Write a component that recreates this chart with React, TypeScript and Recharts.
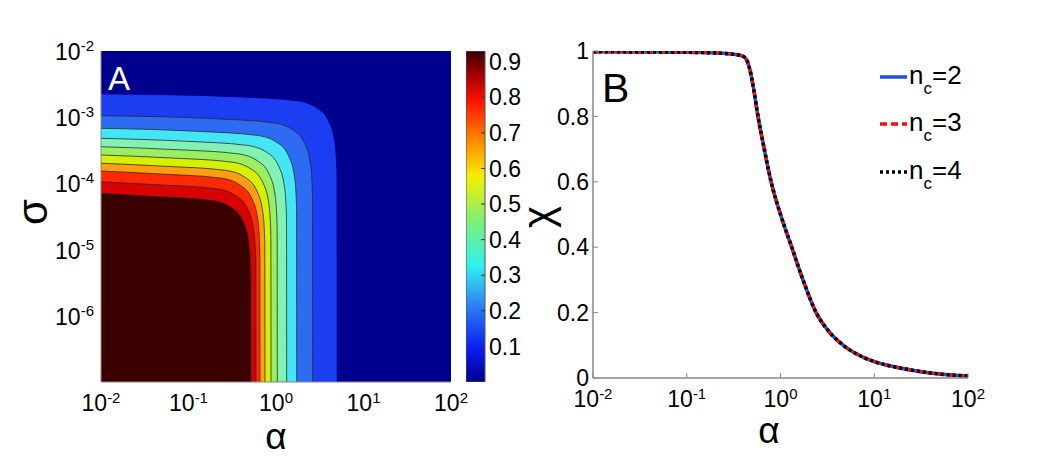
import React from 'react';
import { ComposedChart, Area, XAxis, YAxis, BarChart, Bar, LineChart, Line, Legend } from 'recharts';

const FONT = '"Liberation Sans", Arial, sans-serif';

// panel A: contour lines as log10(alpha), log10(sigma), outermost first
const contourAlpha = [
  [-2, -0.449, 0.237, 0.465, 0.603, 0.671, 0.692, 0.694],
  [-2, -0.724, -0.038, 0.19, 0.328, 0.396, 0.417, 0.419],
  [-2, -0.906, -0.22, 0.008, 0.146, 0.214, 0.235, 0.237],
  [-2, -1.021, -0.335, -0.107, 0.031, 0.099, 0.12, 0.122],
  [-2, -1.128, -0.442, -0.214, -0.076, -0.008, 0.013, 0.015],
  [-2, -1.2, -0.514, -0.286, -0.148, -0.08, -0.059, -0.057],
  [-2, -1.269, -0.583, -0.355, -0.217, -0.149, -0.128, -0.126],
  [-2, -1.326, -0.64, -0.412, -0.274, -0.206, -0.185, -0.183],
  [-2, -1.372, -0.686, -0.458, -0.32, -0.252, -0.231, -0.229],
  [-2, -1.429, -0.743, -0.515, -0.377, -0.309, -0.288, -0.286],
];
const contourSigma = [
  [-2.654, -2.699, -2.76, -2.865, -3.077, -3.409, -3.862, -7],
  [-2.977, -3.022, -3.083, -3.188, -3.4, -3.732, -4.185, -7],
  [-3.168, -3.213, -3.274, -3.379, -3.591, -3.923, -4.376, -7],
  [-3.319, -3.364, -3.425, -3.53, -3.742, -4.074, -4.527, -7],
  [-3.446, -3.491, -3.552, -3.657, -3.869, -4.201, -4.654, -7],
  [-3.571, -3.616, -3.677, -3.782, -3.994, -4.326, -4.779, -7],
  [-3.696, -3.741, -3.802, -3.907, -4.119, -4.451, -4.904, -7],
  [-3.813, -3.858, -3.919, -4.024, -4.236, -4.568, -5.021, -7],
  [-3.974, -4.019, -4.08, -4.185, -4.397, -4.729, -5.182, -7],
  [-4.15, -4.195, -4.256, -4.361, -4.573, -4.905, -5.358, -7],
];
const bandColors = ['#1c3ef2', '#2d6cf2', '#44e6f6', '#82f2b4', '#9aee62', '#d6f004', '#ff9e10', '#ff2a04', '#d80000', '#3a0000'];
const outerAlpha = [-2, 2];
const outerSigma = [-2, -2];
const alphaTicks = [-2, -1, 0, 1, 2];
const sigmaTicks = [-6, -5, -4, -3, -2];

// colorbar
const colorbarMax = 0.93;
const colorbarTicks = [0.1, 0.2, 0.3, 0.4, 0.5, 0.6, 0.7, 0.8, 0.9];

// panel B: chi vs log10(alpha)
const alphaB = [-2, -1.5, -1, -0.7, -0.5, -0.42, -0.38, -0.35, -0.32, -0.29, -0.24, -0.18, -0.1, 0, 0.12, 0.24, 0.38, 0.5, 0.67, 0.85, 1, 1.2, 1.42, 1.7, 2];
const chiN2 = [0.998, 0.997, 0.996, 0.994, 0.99, 0.986, 0.98, 0.965, 0.935, 0.89, 0.8, 0.71, 0.6, 0.5, 0.4, 0.3, 0.2, 0.148, 0.1, 0.068, 0.05, 0.035, 0.023, 0.012, 0.006];
const chiN3 = [0.998, 0.997, 0.996, 0.994, 0.99, 0.986, 0.98, 0.965, 0.935, 0.89, 0.8, 0.71, 0.6, 0.5, 0.4, 0.3, 0.2, 0.148, 0.1, 0.068, 0.05, 0.035, 0.023, 0.012, 0.006];
const chiN4 = [0.998, 0.997, 0.996, 0.994, 0.99, 0.986, 0.98, 0.965, 0.935, 0.89, 0.8, 0.71, 0.6, 0.5, 0.4, 0.3, 0.2, 0.148, 0.1, 0.068, 0.05, 0.035, 0.023, 0.012, 0.006];
const chiTicks = [0, 0.2, 0.4, 0.6, 0.8, 1];
const seriesNames = ['2', '3', '4'];
const seriesColors = ['#1f4fe6', '#ee1111', '#000000'];
const seriesDash = [undefined, '7 4', '3 3'];

const contours = contourAlpha.map((xs, i) => xs.map((x, j) => ({ x, y: contourSigma[i][j] })));
const outerBand = outerAlpha.map((x, i) => ({ x, y: outerSigma[i] }));
const tableB = alphaB.map((a, i) => ({ a, n2: chiN2[i], n3: chiN3[i], n4: chiN4[i] }));
const colorbarData = [{ name: 'cb', v: colorbarMax }];

const XPowTick = ({ x, y, payload }: any) => (
  <text x={x} y={y + 29} textAnchor="middle" fontFamily={FONT} fontSize={23} fill="#000">
    10<tspan dy={-8} fontSize={15}>{payload.value}</tspan>
  </text>
);

const YPowTick = ({ x, y, payload }: any) => (
  <text x={x} y={y + 9} textAnchor="end" fontFamily={FONT} fontSize={23} fill="#000">
    10<tspan dy={-9} fontSize={15}>{payload.value}</tspan>
  </text>
);

const LegendBox = () => (
  <div style={{ fontFamily: FONT, color: '#000' }}>
    {seriesNames.map((n, i) => (
      <div key={n} style={{ height: 47.5, display: 'flex', alignItems: 'center' }}>
        <svg width={29} height={8}>
          <line x1={0} x2={27} y1={4} y2={4} stroke={seriesColors[i]} strokeWidth={3.5} strokeDasharray={seriesDash[i]} />
        </svg>
        <span style={{ fontSize: 26, lineHeight: '26px' }}>
          n<span style={{ fontSize: 17, position: 'relative', top: 10 }}>c</span>={n}
        </span>
      </div>
    ))}
  </div>
);

export default function App() {
  return (
    <div style={{ position: 'absolute', left: 0, top: 0, width: 1050, height: 468, background: '#fff', overflow: 'hidden' }}>
      <div style={{ position: 'absolute', left: 0, top: 0 }}>
        <ComposedChart width={480} height={468} margin={{ top: 51, right: 29, bottom: 0, left: 0 }}>
          <XAxis xAxisId="b" type="number" dataKey="x" domain={[-2, 2]} ticks={alphaTicks} interval={0} allowDataOverflow
            height={86} tick={<XPowTick />} tickLine={false} tickSize={0} tickMargin={0} axisLine={{ stroke: '#888' }} />
          <XAxis xAxisId="t" orientation="top" type="number" dataKey="x" domain={[-2, 2]} allowDataOverflow
            height={0} tick={false} tickLine={false} axisLine={{ stroke: '#888' }} />
          <YAxis yAxisId="l" type="number" dataKey="y" domain={[-7, -2]} ticks={sigmaTicks} interval={0} allowDataOverflow
            width={101} tick={<YPowTick />} tickLine={false} tickSize={0} tickMargin={7} axisLine={{ stroke: '#888' }} />
          <YAxis yAxisId="r" orientation="right" type="number" dataKey="y" domain={[-7, -2]} allowDataOverflow
            width={0} tick={false} tickLine={false} axisLine={{ stroke: '#888' }} />
          <Area xAxisId="b" yAxisId="l" data={outerBand} dataKey="y" type="linear" baseValue={-7}
            fill="#00008f" fillOpacity={1} stroke="none" dot={false} activeDot={false} isAnimationActive={false} />
          {contours.map((pts, i) => (
            <Area key={i} xAxisId="b" yAxisId="l" data={pts} dataKey="y" type="monotone" baseValue={-7}
              fill={bandColors[i]} fillOpacity={1} stroke={i === 0 ? 'none' : '#2a2a2a'} strokeWidth={0.8}
              dot={false} activeDot={false} isAnimationActive={false} />
          ))}
        </ComposedChart>
      </div>

      <div style={{ position: 'absolute', left: 466, top: 0 }}>
        <BarChart width={80} height={468} data={colorbarData} margin={{ top: 51, right: 0, bottom: 86, left: 0 }} barCategoryGap={0}>
          <defs>
            <linearGradient id="jet" x1="0" y1="0" x2="0" y2="1">
              <stop offset="0" stopColor="#3a0000" />
              <stop offset="0.07" stopColor="#a00000" />
              <stop offset="0.15" stopColor="#ff1000" />
              <stop offset="0.27" stopColor="#ff8800" />
              <stop offset="0.38" stopColor="#f4f000" />
              <stop offset="0.51" stopColor="#80f070" />
              <stop offset="0.65" stopColor="#30f0f0" />
              <stop offset="0.78" stopColor="#2a78f2" />
              <stop offset="0.9" stopColor="#0a1cf0" />
              <stop offset="1" stopColor="#00008f" />
            </linearGradient>
          </defs>
          <XAxis dataKey="name" hide />
          <YAxis orientation="right" type="number" domain={[0, colorbarMax]} ticks={colorbarTicks} interval={0} allowDataOverflow
            width={61} tickSize={-4} tickMargin={8} axisLine={false} tickLine={{ stroke: '#333' }}
            tick={{ fill: '#000', fontSize: 23, fontFamily: FONT }} />
          <Bar dataKey="v" fill="url(#jet)" stroke="#555" strokeWidth={1} isAnimationActive={false} />
        </BarChart>
      </div>

      <div style={{ position: 'absolute', left: 500, top: 0 }}>
        <LineChart width={550} height={468} data={tableB} margin={{ top: 51, right: 82, bottom: 0, left: 0 }}>
          <XAxis dataKey="a" type="number" domain={[-2, 2]} ticks={alphaTicks} interval={0} allowDataOverflow
            height={90} tick={<XPowTick />} tickSize={-5} tickMargin={5} tickLine={{ stroke: '#888' }} axisLine={{ stroke: '#888', strokeWidth: 1.5 }} />
          <XAxis xAxisId="top" orientation="top" dataKey="a" type="number" domain={[-2, 2]} ticks={alphaTicks} interval={0} allowDataOverflow
            height={0} tick={false} tickSize={-5} tickLine={{ stroke: '#888' }} axisLine={{ stroke: '#888', strokeWidth: 1.5 }} />
          <YAxis type="number" domain={[0, 1]} ticks={chiTicks} interval={0} allowDataOverflow width={93}
            tickSize={-5} tickMargin={9} tickLine={{ stroke: '#888' }} axisLine={{ stroke: '#888', strokeWidth: 1.5 }}
            tickFormatter={(v: number) => (v === 0 || v === 1 ? String(v) : v.toFixed(1))}
            tick={{ fill: '#000', fontSize: 23, fontFamily: FONT }} />
          <YAxis yAxisId="right" orientation="right" type="number" domain={[0, 1]} ticks={chiTicks} interval={0} allowDataOverflow
            width={0} tick={false} tickSize={-5} tickLine={{ stroke: '#888' }} axisLine={{ stroke: '#888', strokeWidth: 1.5 }} />
          <Line dataKey="n2" type="monotone" stroke={seriesColors[0]} strokeWidth={3.5} dot={false} activeDot={false} isAnimationActive={false} />
          <Line dataKey="n3" type="monotone" stroke={seriesColors[1]} strokeWidth={3.5} strokeDasharray={seriesDash[1]} dot={false} activeDot={false} isAnimationActive={false} />
          <Line dataKey="n4" type="monotone" stroke={seriesColors[2]} strokeWidth={3.5} strokeDasharray={seriesDash[2]} dot={false} activeDot={false} isAnimationActive={false} />
          <Legend layout="vertical" align="center" verticalAlign="middle" content={<LegendBox />}
            wrapperStyle={{ position: 'absolute', left: 380, top: 53, width: 100, height: 145 }} />
        </LineChart>
      </div>

      <svg width={1050} height={468} style={{ position: 'absolute', left: 0, top: 0, pointerEvents: 'none' }} fontFamily={FONT}>
        <text x={108} y={90} fontSize={33} fill="#fff">A</text>
        <text x={602} y={102} fontSize={41} fill="#000">B</text>
        <text x={276} y={449} fontSize={37} textAnchor="middle" fill="#000">α</text>
        <text x={769} y={443} fontSize={37} textAnchor="middle" fill="#000">α</text>
        <text transform="translate(47,212) rotate(-90)" fontSize={42} textAnchor="middle" fill="#000">σ</text>
        <text transform="translate(552,217) rotate(-90)" fontSize={42} textAnchor="middle" fill="#000">χ</text>
      </svg>
    </div>
  );
}
